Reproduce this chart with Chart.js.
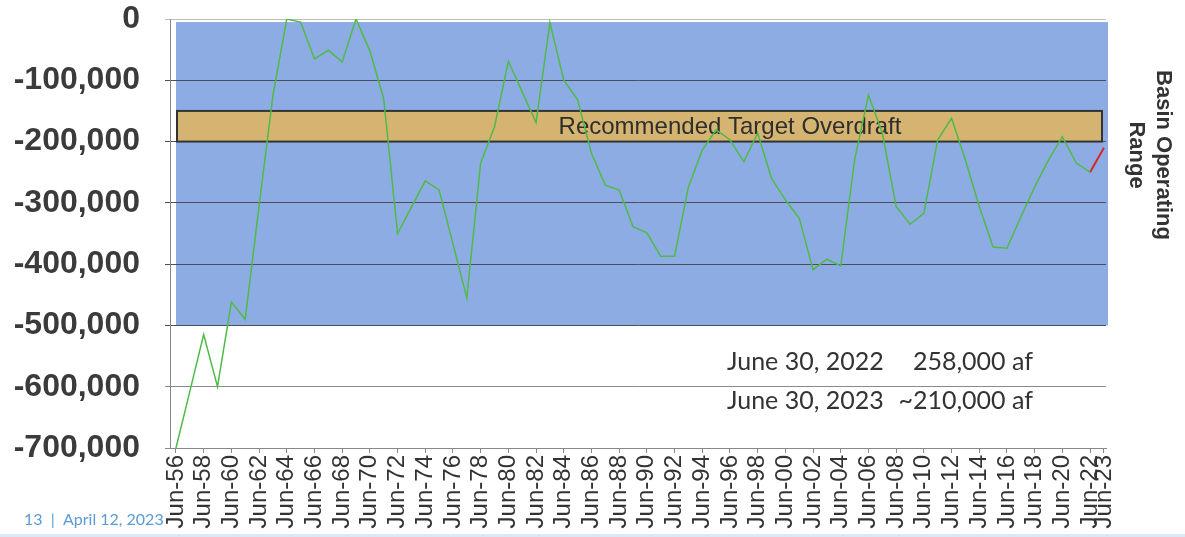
<!DOCTYPE html>
<html>
<head>
<meta charset="utf-8">
<script src="https://cdn.jsdelivr.net/npm/chart.js@4.4.1/dist/chart.umd.min.js"></script>
<style>
  html, body { margin: 0; padding: 0; background: #fff; }
  #wrap { position: relative; width: 1185px; height: 537px; }
</style>
</head>
<body>
<div id="wrap"><canvas id="chart" width="1185" height="537"></canvas></div>
<script>
// Basin overdraft (af), one value per June, 1956 - 2022
const years = [];
for (let y = 1956; y <= 2022; y++) years.push(y);

const overdraft = [
  -700000, -608000, -515000, -600000, -462000, -490000, -305000, -125000, 0, -5000,
  -65000, -51000, -70000, 0, -52000, -130000, -350000, -307000, -264000, -279000,
  -367000, -455000, -235000, -176000, -69000, -119000, -169000, -6000, -100000, -132000,
  -219000, -271000, -279000, -339000, -349000, -387000, -387000, -274000, -214000, -181000,
  -197000, -233000, -186000, -260000, -295000, -325000, -409000, -392000, -403000, -230000,
  -124000, -186000, -306000, -335000, -317000, -197000, -162000, -230000, -306000, -372000,
  -374000, -323000, -274000, -230000, -192000, -235000, -250000
];

// projected segment to June 2023
const projYears = [2022, 2023];
const projection = [-250000, -210000];

const tickYears = [1956, 1958, 1960, 1962, 1964, 1966, 1968, 1970, 1972, 1974, 1976, 1978,
  1980, 1982, 1984, 1986, 1988, 1990, 1992, 1994, 1996, 1998, 2000, 2002, 2004, 2006,
  2008, 2010, 2012, 2014, 2016, 2018, 2020, 2022, 2023];
const yTicks = [0, -100000, -200000, -300000, -400000, -500000, -600000, -700000];

const operatingRange = [-5000, -500000];
const targetRange = [-150000, -200000];
const targetLabel = 'Recommended Target Overdraft';
const sideLabel = ['Basin Operating', 'Range'];
const notes = [
  ['June 30, 2022', '258,000 af'],
  ['June 30, 2023', '~210,000 af']
];
const footer = '13  |  April 12, 2023';

const fmt = v => v.toLocaleString('en-US');

const bandsPlugin = {
  id: 'bands',
  beforeDraw(chart) {
    const { ctx, chartArea: a, scales: { y } } = chart;
    ctx.save();
    // slide footer
    ctx.fillStyle = '#5b9bd5';
    ctx.font = '16px Lato, "Open Sans", sans-serif';
    ctx.textBaseline = 'middle';
    ctx.fillText(footer, 24, 520);
    ctx.fillStyle = '#dbe9f6';
    ctx.fillRect(0, 534, 1185, 3);
    // operating range
    const top = y.getPixelForValue(operatingRange[0]);
    const bot = y.getPixelForValue(operatingRange[1]);
    ctx.fillStyle = '#8eace4';
    ctx.fillRect(a.left + 6, top, a.right - a.left - 4, bot - top);
    ctx.restore();
  },
  beforeDatasetsDraw(chart) {
    const { ctx, chartArea: a, scales: { y } } = chart;
    ctx.save();
    const t = y.getPixelForValue(targetRange[0]);
    const b = y.getPixelForValue(targetRange[1]);
    const l = a.left + 7, r = a.right - 4;
    ctx.fillStyle = '#d4b470';
    ctx.fillRect(l, t, r - l, b - t);
    ctx.strokeStyle = '#333';
    ctx.lineWidth = 2;
    ctx.strokeRect(l, t, r - l, b - t);
    ctx.fillStyle = '#2e2e2e';
    ctx.font = '24px "Liberation Sans", Arial, sans-serif';
    ctx.textAlign = 'center';
    ctx.textBaseline = 'middle';
    ctx.fillText(targetLabel, 730, (t + b) / 2 + 1);

    // notes under the band
    ctx.font = '25px Lato, "Open Sans", sans-serif';
    ctx.fillStyle = '#333';
    notes.forEach((n, i) => {
      const yy = y.getPixelForValue(-560000 - i * 63000);
      ctx.textAlign = 'left';
      ctx.fillText(n[0], 727, yy);
      ctx.textAlign = 'right';
      ctx.fillText(n[1], 1033, yy);
    });

    // side title
    ctx.translate(1150, 155);
    ctx.rotate(Math.PI / 2);
    ctx.font = 'bold 22px "Liberation Sans", Arial, sans-serif';
    ctx.fillStyle = '#333';
    ctx.textAlign = 'center';
    ctx.fillText(sideLabel[0], 0, -13);
    ctx.fillText(sideLabel[1], 0, 14);
    ctx.restore();
  }
};

new Chart(document.getElementById('chart').getContext('2d'), {
  type: 'line',
  data: {
    datasets: [
      {
        data: years.map((yr, i) => ({ x: yr, y: overdraft[i] })),
        borderColor: '#4fbb47',
        borderWidth: 1.5,
        pointRadius: 0,
        tension: 0
      },
      {
        data: projYears.map((yr, i) => ({ x: yr, y: projection[i] })),
        borderColor: '#d8262c',
        borderWidth: 2,
        pointRadius: 0,
        tension: 0
      }
    ]
  },
  options: {
    responsive: false,
    animation: false,
    layout: { padding: { top: 19, right: 79, left: 0, bottom: 0 } },
    plugins: { legend: { display: false }, tooltip: { enabled: false } },
    scales: {
      x: {
        type: 'linear',
        min: 1955.57,
        max: 2023.15,
        afterBuildTicks: s => { s.ticks = tickYears.map(v => ({ value: v })); },
        afterFit: s => { s.height = 89; },
        grid: { display: true, drawOnChartArea: false, tickLength: 5, color: '#888' },
        border: { color: '#888', width: 1 },
        ticks: {
          autoSkip: false,
          minRotation: 90,
          maxRotation: 90,
          padding: 2,
          color: '#333',
          font: { family: '"Liberation Sans", Arial, sans-serif', size: 24 },
          callback: v => 'Jun-' + String(v).slice(-2)
        }
      },
      y: {
        min: -700000,
        max: 0,
        afterBuildTicks: s => { s.ticks = yTicks.map(v => ({ value: v })); },
        afterFit: s => { s.width = 170; s.paddingTop = 0; s.paddingBottom = 0; },
        grid: {
          tickLength: 5,
          lineWidth: 1,
          color: c => (c.tick && c.tick.value === 0) ? '#bdbdbd' : (c.tick && c.tick.value < -500000 ? '#8a8a8a' : '#4a4f5a')
        },
        border: { color: '#888', width: 1 },
        ticks: {
          padding: 25,
          color: '#3b3b3b',
          font: { family: '"Liberation Sans", Arial, sans-serif', size: 32, weight: 'bold' },
          callback: v => fmt(v)
        }
      }
    }
  },
  plugins: [bandsPlugin]
});
</script>
</body>
</html>
